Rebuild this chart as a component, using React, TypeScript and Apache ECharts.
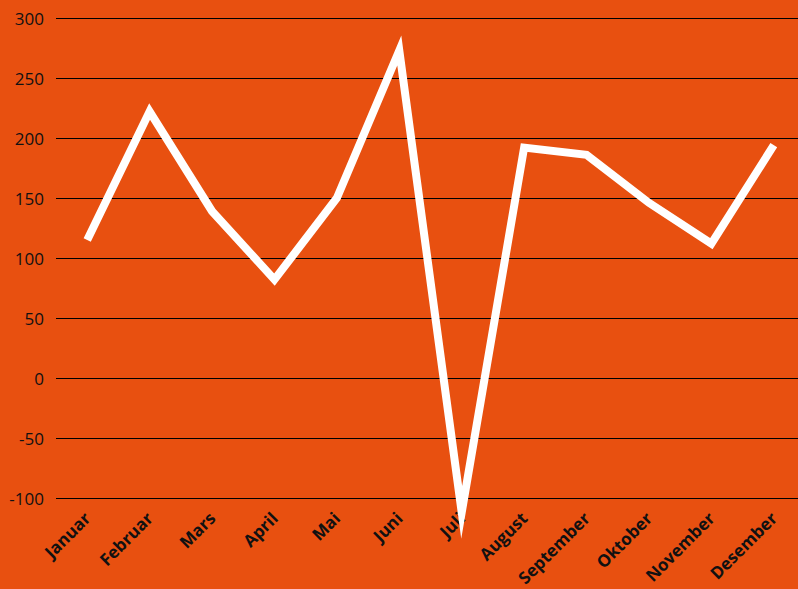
import React, { useEffect, useRef } from "react";
import * as echarts from "echarts";

const months = ["Januar", "Februar", "Mars", "April", "Mai", "Juni", "Juli", "August", "September", "Oktober", "November", "Desember"];
const values = [115, 222, 139, 82, 150, 273, -112, 192, 186, 146, 112, 194];
const yMin = -100;
const yMax = 300;
const yStep = 50;

export default function App() {
  const ref = useRef<HTMLDivElement>(null);
  useEffect(() => {
    const chart = echarts.init(ref.current!, null, { renderer: "svg" });
    chart.setOption({
      animation: false,
      backgroundColor: "#E85010",
      grid: { left: 56, right: 0, top: 18, bottom: 91, containLabel: false },
      xAxis: {
        type: "category",
        data: months,
        boundaryGap: true,
        axisLine: { show: false },
        axisTick: { show: false },
        axisLabel: {
          rotate: 45,
          interval: 0,
          color: "#111",
          fontWeight: "bold",
          fontSize: 17,
          fontFamily: "Open Sans",
          margin: 17,
        },
        splitLine: { show: false },
      },
      yAxis: {
        type: "value",
        min: yMin,
        max: yMax,
        interval: yStep,
        axisLine: { show: false },
        axisTick: { show: false },
        axisLabel: { color: "#111", fontSize: 17, fontFamily: "Open Sans", margin: 12 },
        splitLine: { lineStyle: { color: "#000", width: 1 } },
      },
      series: [
        {
          type: "line",
          data: values,
          symbol: "none",
          clip: false,
          z: 5,
          lineStyle: { color: "#fff", width: 8, join: "miter", miterLimit: 20 },
        },
      ],
    });
    return () => chart.dispose();
  }, []);
  return (
    <div style={{ position: "absolute", left: 0, top: 0, width: 798, height: 589, overflow: "hidden" }}>
      <div ref={ref} style={{ width: 805, height: 589 }} />
    </div>
  );
}
